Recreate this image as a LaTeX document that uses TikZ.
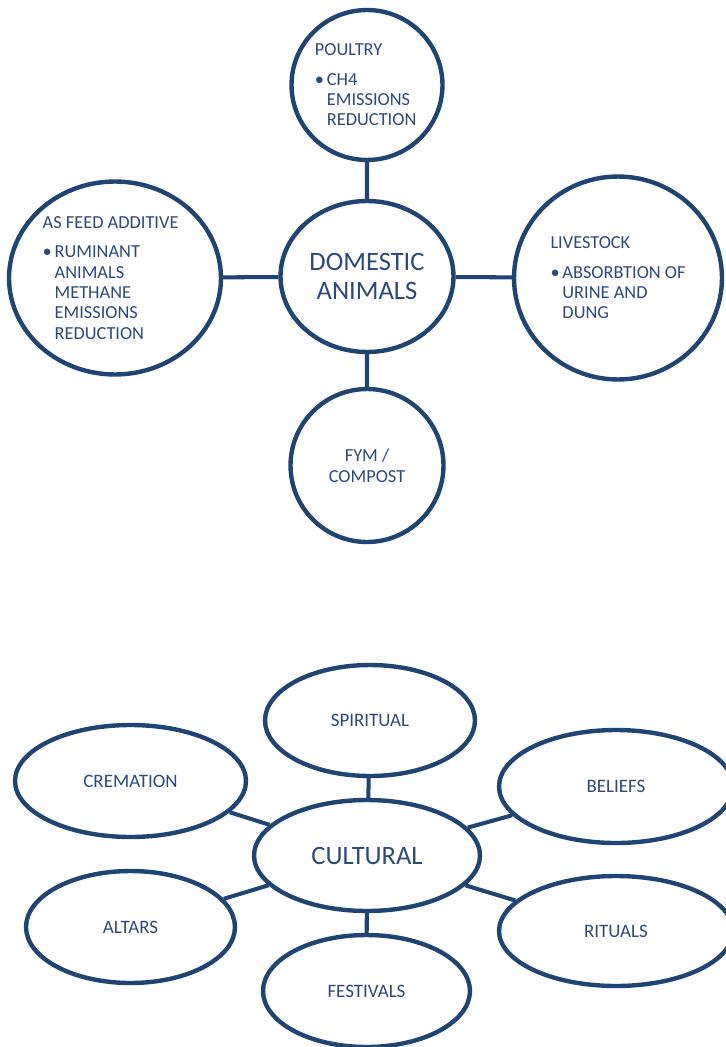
\documentclass[tikz,border=0pt]{standalone}
\usepackage{fontspec}
\setmainfont{Carlito}
\usetikzlibrary{shapes.geometric}
\definecolor{mapblue}{RGB}{31,68,118}
\definecolor{maptext}{RGB}{42,75,124}
\newcommand{\itemdot}{\makebox[6.8pt][l]{\textbullet}}
\newcommand{\itemgap}{\hspace*{6.8pt}}
\newcommand{\padright}[1]{\hspace*{#1}}

\begin{document}
\begin{tikzpicture}[x=0.02cm,y=-0.02cm,
  bubble/.style={ellipse,draw=mapblue,line width=2.5pt,inner sep=0pt,
    text=maptext,align=center,font=\fontsize{10.45}{11.6}\selectfont},
  hub/.style={bubble,font=\fontsize{15.1}{16.4}\selectfont},
  petal/.style={bubble,font=\fontsize{10.8}{12}\selectfont},
  link/.style={draw=mapblue,line width=2.3pt}]
\useasboundingbox (0,0) rectangle (725,1047);

% domestic animals
\node [hub,minimum width=3.46cm,minimum height=3.02cm] (domestic) at (367,276.5) {DOMESTIC\\ANIMALS};
\node [bubble,align=left,minimum width=3.02cm,minimum height=3cm] (poultry) at (367,85)
  {POULTRY\\[5pt]\itemdot CH4\\\itemgap EMISSIONS\\\itemgap REDUCTION\padright{1.5pt}};
\node [bubble,align=left,minimum width=4.24cm,minimum height=3.86cm] (feed) at (115,278)
  {AS FEED ADDITIVE\padright{5pt}\\[5pt]\itemdot RUMINANT\\\itemgap ANIMALS\\\itemgap METHANE\\\itemgap EMISSIONS\\\itemgap REDUCTION};
\node [bubble,align=left,minimum width=4.16cm,minimum height=4.06cm] (livestock) at (618,278)
  {LIVESTOCK\\[5pt]\itemdot ABSORBTION OF\padright{10.5pt}\\\itemgap URINE AND\\\itemgap DUNG};
\node [bubble,minimum width=3.06cm,minimum height=3.06cm] (fym) at (367,465.5) {FYM /\\COMPOST};
\draw [link]
(domestic) -- (poultry)
(domestic) -- (feed)
(domestic) -- (livestock)
(domestic) -- (fym)
;

% cultural
\node [hub,minimum width=4.52cm,minimum height=2.22cm] (cultural) at (367,855.5) {CULTURAL};
\node [petal,minimum width=4.2cm,minimum height=2.22cm] (spiritual) at (370,720.5) {SPIRITUAL};
\node [petal,minimum width=4.62cm,minimum height=2.24cm] (cremation) at (130.5,781) {CREMATION};
\node [petal,minimum width=4.68cm,minimum height=2.26cm] (beliefs) at (616,786.5) {BELIEFS};
\node [petal,minimum width=4.18cm,minimum height=2.24cm] (altars) at (130.5,927) {ALTARS};
\node [petal,minimum width=4.68cm,minimum height=2.2cm] (rituals) at (616,931) {RITUALS};
\node [petal,minimum width=4.14cm,minimum height=2.24cm] (festivals) at (366.5,991) {FESTIVALS};
\draw [link]
(cultural) -- (spiritual)
(cultural) -- (cremation)
(cultural) -- (beliefs)
(cultural) -- (altars)
(cultural) -- (rituals)
(cultural) -- (festivals)
;
\end{tikzpicture}
\end{document}
